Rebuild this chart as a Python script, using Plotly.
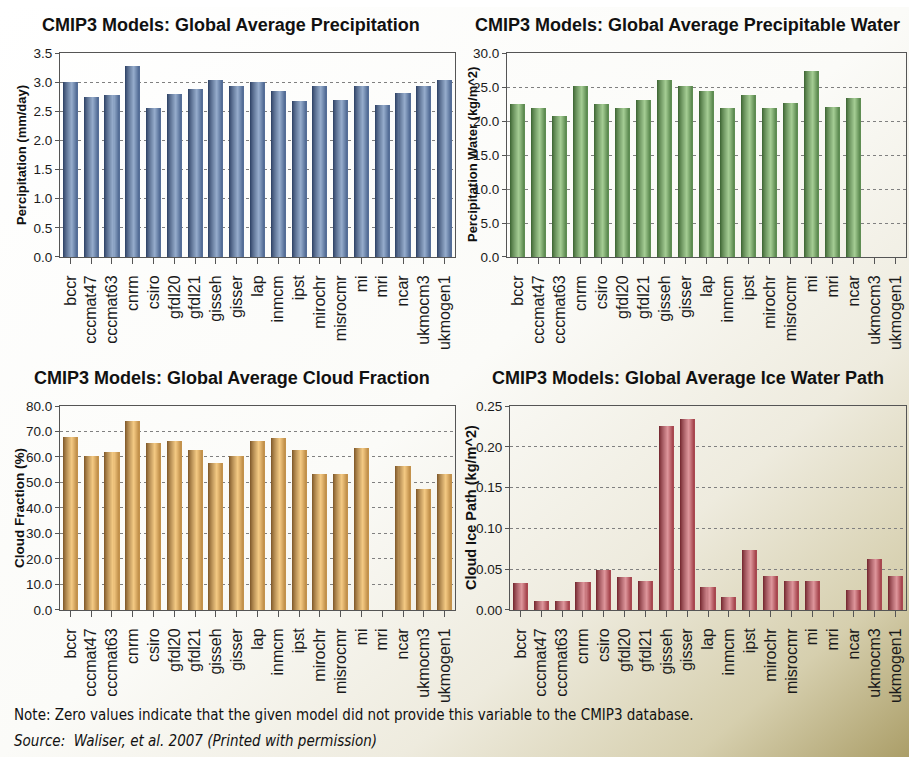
import base64
import plotly.graph_objects as go

# CMIP3 global means per model
models = ["bccr", "cccmat47", "cccmat63", "cnrm", "csiro", "gfdl20", "gfdl21",
          "gisseh", "gisser", "lap", "inmcm", "ipst", "mirochr", "misrocmr",
          "mi", "mri", "ncar", "ukmocm3", "ukmogen1"]

precip = [3.00, 2.74, 2.78, 3.28, 2.55, 2.80, 2.89, 3.04, 2.94, 3.01, 2.85,
          2.68, 2.94, 2.69, 2.94, 2.61, 2.82, 2.93, 3.04]
precip_water = [22.5, 21.9, 20.8, 25.1, 22.5, 21.9, 23.1, 26.1, 25.1, 24.4,
                21.9, 23.8, 21.9, 22.6, 27.3, 22.0, 23.4, 0.0, 0.0]
cloud_frac = [67.9, 60.2, 62.1, 74.0, 65.4, 66.3, 62.7, 57.8, 60.2, 66.3,
              67.4, 62.7, 53.3, 53.3, 63.4, 0.0, 56.3, 47.6, 53.3]
ice_path = [0.033, 0.011, 0.011, 0.034, 0.049, 0.040, 0.035, 0.226, 0.234,
            0.028, 0.016, 0.074, 0.042, 0.036, 0.036, 0.0, 0.024, 0.062, 0.042]

W, H = 909, 765

panels = [
    dict(values=precip, title="CMIP3 Models: Global Average Precipitation",
         ytitle="Percipitation (mm/day)", yrange=[0, 3.5], dtick=0.5, fmt=".1f",
         x=(60, 455), y=(47, 255), shade=((40, 60, 95), (150, 172, 204), (78, 104, 145)),
         title_xy=(231, 18), ytitle_x=21, ytitle_size=13),
    dict(values=precip_water, title="CMIP3 Models: Global Average Precipitable Water",
         ytitle="Percipitation Water (kg/m^2)", yrange=[0, 30], dtick=5, fmt=".1f",
         x=(507, 906), y=(47, 255), shade=((55, 95, 45), (165, 205, 148), (88, 134, 76)),
         title_xy=(687, 18), ytitle_x=472, ytitle_size=13),
    dict(values=cloud_frac, title="CMIP3 Models: Global Average Cloud Fraction",
         ytitle="Cloud Fraction (%)", yrange=[0, 80], dtick=10, fmt=".1f",
         x=(60, 455), y=(407, 615), shade=((120, 82, 36), (244, 202, 132), (190, 140, 70)),
         title_xy=(232, 378), ytitle_x=20, ytitle_size=13.5),
    dict(values=ice_path, title="CMIP3 Models: Global Average Ice Water Path",
         ytitle="Cloud Ice Path (kg/m^2)", yrange=[0, 0.25], dtick=0.05, fmt=".2f",
         x=(510, 906), y=(407, 615), shade=((110, 32, 40), (222, 150, 156), (162, 64, 72)),
         title_xy=(688, 378), ytitle_x=471, ytitle_size=14.5),
]


def lerp(a, b, t):
    return tuple(round(a[i] + (b[i] - a[i]) * t) for i in range(3))


def shade_at(t, dark, light, edge):
    # cylinder-like shading: dark on the left, highlight past centre, mid at right
    peak = 0.62
    if t <= peak:
        c = lerp(dark, light, (t / peak) ** 0.8)
    else:
        c = lerp(light, edge, (t - peak) / (1 - peak))
    return "rgb(%d,%d,%d)" % c


fig = go.Figure()
layout = {}
annotations = []
n_slices = 14
bar_w = 0.68
font = "Liberation Sans"
narrow = "DejaVu Sans Condensed"

for k, p in enumerate(panels):
    sfx = "" if k == 0 else str(k + 1)
    xa, ya = "x" + sfx, "y" + sfx
    dark, light, edge = p["shade"]
    step = bar_w / n_slices
    for i in range(n_slices):
        t = (i + 0.5) / n_slices
        fig.add_trace(go.Bar(
            x=models, y=p["values"], xaxis=xa, yaxis=ya,
            width=step * 1.25 if i < n_slices - 1 else step,
            offset=-bar_w / 2 + i * step,
            marker=dict(color=shade_at(t, dark, light, edge), line=dict(width=0)),
            showlegend=False, hoverinfo="skip"))

    x0, x1 = p["x"]
    y0, y1 = p["y"]
    layout["xaxis" + sfx] = dict(
        domain=[x0 / W, x1 / W], anchor=ya, type="category",
        categoryorder="array", categoryarray=models,
        tickangle=-90, tickfont=dict(family=font, size=16, color="#1a1a1a"),
        ticks="outside", ticklen=6, tickcolor="#555", showgrid=False,
        showline=True, linecolor="#555", linewidth=1, mirror=True, fixedrange=True,
        ticklabelstandoff=5)
    layout["yaxis" + sfx] = dict(
        domain=[1 - y1 / H, 1 - y0 / H], anchor=xa, range=p["yrange"],
        dtick=p["dtick"], tick0=0, tickformat=p["fmt"],
        tickfont=dict(family=font, size=13.5, color="#1a1a1a"),
        ticks="outside", ticklen=4, tickcolor="#555",
        showgrid=True, gridcolor="#808080", griddash="dot", gridwidth=1,
        zeroline=False, showline=True, linecolor="#555", linewidth=1, mirror=True,
        fixedrange=True, ticklabelstandoff=0)

    tx, ty = p["title_xy"]
    annotations.append(dict(
        text="<b>%s</b>" % p["title"], x=tx / W, y=1 - ty / H, xref="paper", yref="paper",
        showarrow=False, xanchor="center", yanchor="middle",
        font=dict(family=font, size=18, color="#111")))
    annotations.append(dict(
        text="<b>%s</b>" % p["ytitle"], x=p["ytitle_x"] / W, y=1 - (y0 + y1) / 2 / H,
        xref="paper", yref="paper", showarrow=False, textangle=-90,
        xanchor="center", yanchor="middle",
        font=dict(family=font, size=p["ytitle_size"], color="#111")))

annotations.append(dict(
    text="Note: Zero values indicate that the given model did not provide this variable to the CMIP3 database.",
    x=12 / W, y=1 - 722 / H, xref="paper", yref="paper", showarrow=False,
    xanchor="left", yanchor="middle",
    font=dict(family=narrow, size=15, color="#111")))
annotations.append(dict(
    text="<i>Source:  Waliser, et al. 2007 (Printed with permission)</i>",
    x=12 / W, y=1 - 749 / H, xref="paper", yref="paper", showarrow=False,
    xanchor="left", yanchor="middle",
    font=dict(family=narrow, size=15, color="#111")))

# page backdrop: white fading to olive toward the lower right
svg = (
    '<svg xmlns="http://www.w3.org/2000/svg" width="909" height="765">'
    '<defs><linearGradient id="g" x1="0" y1="0" x2="1" y2="1">'
    '<stop offset="0" stop-color="#ffffff"/>'
    '<stop offset="0.5" stop-color="#fbfbf8"/>'
    '<stop offset="0.72" stop-color="#eeebde"/>'
    '<stop offset="0.88" stop-color="#d6cfae"/>'
    '<stop offset="1" stop-color="#ab9e68"/>'
    '</linearGradient></defs>'
    '<rect width="909" height="765" fill="url(#g)"/></svg>')
bg_src = "data:image/svg+xml;base64," + base64.b64encode(svg.encode()).decode()

fig.update_layout(
    width=W, height=H, margin=dict(l=0, r=0, t=0, b=0),
    paper_bgcolor="white", plot_bgcolor="#ececec",
    barmode="overlay", bargap=0, annotations=annotations,
    images=[dict(source=bg_src, xref="paper", yref="paper", x=0, y=1,
                 sizex=1, sizey=1, sizing="stretch", layer="below",
                 xanchor="left", yanchor="top")],
    **layout)

fig.write_html("out.html", config={"displayModeBar": False})
